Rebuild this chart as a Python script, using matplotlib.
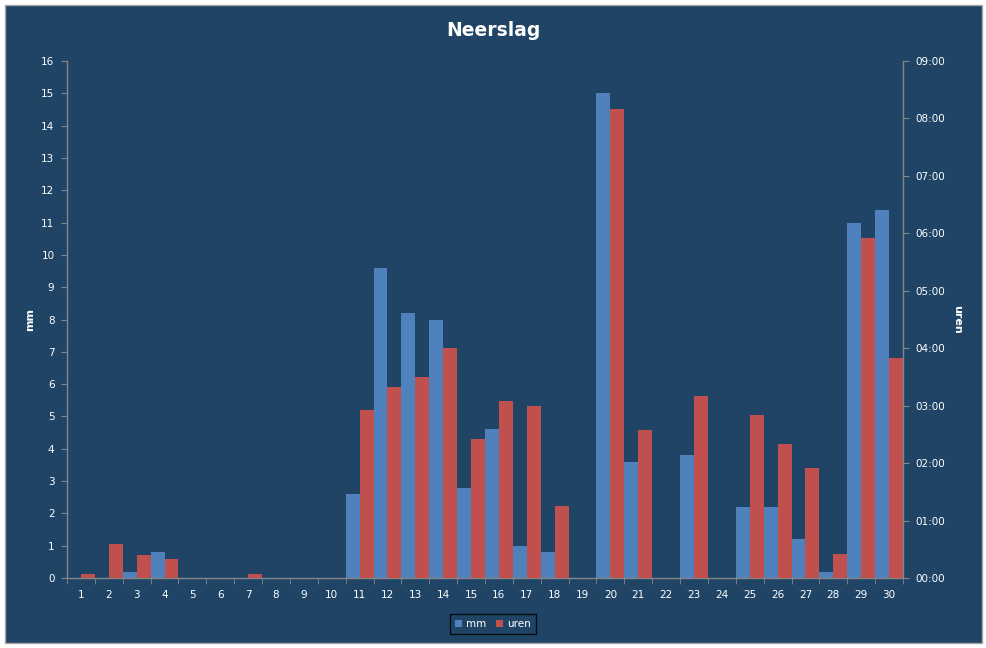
import numpy as np
import matplotlib.pyplot as plt
from matplotlib.patches import Rectangle, Patch
from matplotlib.ticker import FixedLocator, FuncFormatter

# days of the month
days = list(range(1, 31))
# rain in mm
mm = [0, 0, 0.2, 0.8, 0, 0, 0, 0, 0, 0,
      2.6, 9.6, 8.2, 8.0, 2.8, 4.6, 1.0, 0.8, 0, 15.0,
      3.6, 0, 3.8, 0, 2.2, 2.2, 1.2, 0.2, 11.0, 11.4]
# hours of rain, in minutes
uren_min = [4, 35, 24, 20, 0, 0, 4, 0, 0, 0,
            175, 200, 210, 240, 145, 185, 180, 75, 0, 490,
            155, 0, 190, 0, 170, 140, 115, 25, 355, 230]

bg = '#1F4466'
blue = '#4F81BD'
red = '#C0504D'
grey = '#868686'
txt = '#FFFFFF'

plt.rcParams['font.family'] = ['DejaVu Sans']

fig = plt.figure(figsize=(9.87, 6.48), dpi=100)
fig.patch.set_facecolor('white')
W, H = 987, 648
fig.patches.append(Rectangle((5 / W, 5 / H), 977 / W, 638 / H, transform=fig.transFigure,
                             facecolor=bg, edgecolor='#A6A6A6', linewidth=1.0, zorder=-10))

ax = fig.add_axes([67 / W, 1 - 578 / H, 836 / W, 517 / H])
ax.set_facecolor('none')
ax2 = ax.twinx()

x = np.array(days)
ax.bar(x - 0.25, mm, width=0.5, color=blue, linewidth=0, zorder=2)
ax2.bar(x + 0.25, uren_min, width=0.5, color=red, linewidth=0, zorder=2)

ax.set_xlim(0.5, 30.5)
ax.set_ylim(0, 16)
ax2.set_ylim(0, 540)

ax.set_yticks(range(0, 17))
ax2.set_yticks(range(0, 541, 60))
ax2.yaxis.set_major_formatter(FuncFormatter(lambda v, p: '%02d:00' % int(round(v / 60))))

ax.set_xticks(days)
ax.xaxis.set_minor_locator(FixedLocator(np.arange(0.5, 31, 1)))
ax.tick_params(axis='x', which='major', length=0, pad=9, labelsize=7.5, labelcolor=txt)
ax.tick_params(axis='x', which='minor', length=4, color=grey, direction='out')
ax.tick_params(axis='y', length=4, color=grey, labelsize=7.5, labelcolor=txt, pad=5)
ax2.tick_params(axis='y', length=4, color=grey, labelsize=7.5, labelcolor=txt, pad=5)

for a in (ax, ax2):
    a.spines['top'].set_visible(False)
    for s in ('left', 'right', 'bottom'):
        a.spines[s].set_color(grey)
        a.spines[s].set_linewidth(1.0)
ax.spines['right'].set_visible(False)
ax2.spines['left'].set_visible(False)
ax2.spines['bottom'].set_visible(False)

ax.set_ylabel('mm', color=txt, fontsize=8, fontweight='bold', labelpad=16)
ax2.set_ylabel('uren', color=txt, fontsize=8, fontweight='bold', rotation=-90, labelpad=5)
ax.yaxis.set_label_coords(-32 / 836, 0.5)
ax2.yaxis.set_label_coords(1 + 59 / 836, 0.5)

fig.text(493 / W, 1 - 31 / H, 'Neerslag', ha='center', va='center', color=txt,
         fontsize=13.5, fontweight='bold')

handles = [Patch(facecolor=blue, label='mm'), Patch(facecolor=red, label='uren')]
leg = fig.legend(handles=handles, loc='center', bbox_to_anchor=(493 / W, 1 - 624 / H), ncol=2,
                 fontsize=7.5, frameon=True, fancybox=False, handlelength=0.7, handleheight=0.7,
                 handletextpad=0.4, columnspacing=0.9, borderpad=0.45)
leg.get_frame().set_facecolor(bg)
leg.get_frame().set_edgecolor('black')
leg.get_frame().set_linewidth(1.0)
for t in leg.get_texts():
    t.set_color(txt)

fig.savefig('out.png', dpi=100, facecolor=fig.get_facecolor())
